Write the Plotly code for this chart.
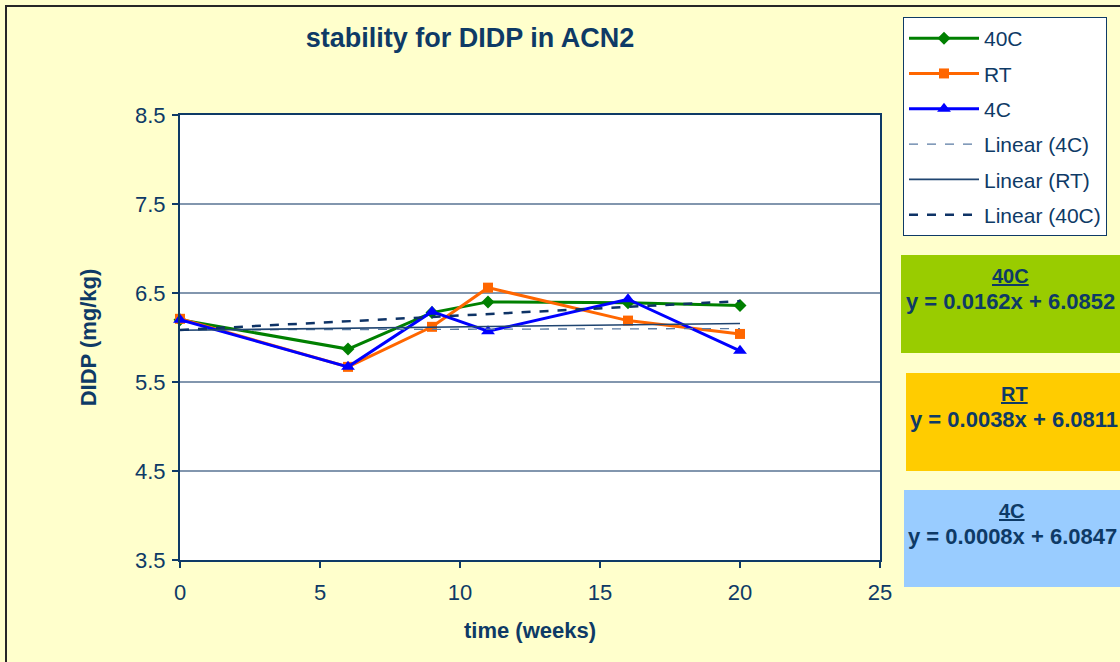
import plotly.graph_objects as go

# Sampling times (weeks)
weeks = [0, 6, 9, 11, 16, 20]

# DIDP concentration (mg/kg) at each storage condition
didp_40c = [6.20, 5.87, 6.28, 6.40, 6.39, 6.36]
didp_rt = [6.21, 5.67, 6.12, 6.56, 6.19, 6.04]
didp_4c = [6.20, 5.67, 6.29, 6.07, 6.43, 5.85]

# Linear trend coefficients (slope, intercept)
trend_names = ["40C", "RT", "4C"]
trend_slopes = [0.0162, 0.0038, 0.0008]
trend_intercepts = [6.0852, 6.0811, 6.0847]

x_ticks = [0, 5, 10, 15, 20, 25]
y_ticks = [3.5, 4.5, 5.5, 6.5, 7.5, 8.5]

NAVY = "#0E3A66"
FONT = "Liberation Sans, Arial, sans-serif"

# plot area in pixels
W, H = 1120, 662
L, R, T, B = 180, 240, 115, 102
PW, PH = W - L - R, H - T - B


def px(x):
    return (x - L) / PW


def py(y):
    return (H - B - y) / PH


fig = go.Figure()

series = [
    ("40C", didp_40c, "#008000", "diamond", 10),
    ("RT", didp_rt, "#FF6600", "square", 10),
    ("4C", didp_4c, "#0000FF", "triangle-up", 12),
]
for name, vals, color, sym, size in series:
    fig.add_trace(go.Scatter(
        x=weeks, y=vals, name=name, mode="lines+markers",
        line=dict(color=color, width=3),
        marker=dict(symbol=sym, size=size, color=color),
        cliponaxis=False, legendgroup=name,
    ))

coef = dict(zip(trend_names, zip(trend_slopes, trend_intercepts)))
trend_styles = [
    ("4C", "#5A7BA3", "dash", 1.3),
    ("RT", "#1F4470", "solid", 1.6),
    ("40C", "#0E3366", "dash", 2.5),
]
x_fit = [weeks[0], weeks[-1]]
for name, color, dash, width in trend_styles:
    m, c = coef[name]
    fig.add_trace(go.Scatter(
        x=x_fit, y=[m * xv + c for xv in x_fit], name=f"Linear ({name})",
        mode="lines", line=dict(color=color, dash=dash, width=width),
        legendgroup="Linear " + name,
    ))

shapes = []
# outer chart frame
shapes.append(dict(type="rect", xref="paper", yref="paper",
                   x0=px(6), x1=px(1400), y0=py(900), y1=py(6),
                   line=dict(color="#262626", width=2), fillcolor="rgba(0,0,0,0)",
                   layer="below"))

# equation boxes
boxes = [
    ("40C", "#99CC00", 901, 255, 353, 1010),
    ("RT", "#FFCC00", 906, 373, 471, 1014),
    ("4C", "#99CCFF", 904, 490, 587, 1012),
]
annotations = []
for name, fill, x0, y0, y1, cx in boxes:
    shapes.append(dict(type="rect", xref="paper", yref="paper",
                       x0=px(x0), x1=px(1125), y0=py(y1), y1=py(y0),
                       fillcolor=fill, line=dict(width=0)))
    m, c = coef[name]
    annotations.append(dict(
        xref="paper", yref="paper", x=px(cx), y=py(y0 + 21),
        text=f"<b><u>{name}</u></b>", showarrow=False,
        font=dict(size=20, color=NAVY, family=FONT), xanchor="center", yanchor="middle"))
    annotations.append(dict(
        xref="paper", yref="paper", x=px(cx), y=py(y0 + 46),
        text=f"<b>y = {m:.4f}x + {c:.4f}</b>", showarrow=False,
        font=dict(size=22, color=NAVY, family=FONT), xanchor="center", yanchor="middle"))

fig.update_layout(
    width=W, height=H,
    margin=dict(l=L, r=R, t=T, b=B, pad=0),
    paper_bgcolor="#FFFFCC", plot_bgcolor="#FFFFFF",
    font=dict(family=FONT, color=NAVY),
    title=dict(text="<b>stability for DIDP in ACN2</b>", x=px(470), xref="paper",
               xanchor="center", y=1 - 38 / H, yanchor="middle",
               font=dict(size=27, color=NAVY, family=FONT)),
    xaxis=dict(range=[0, 25], tickvals=x_ticks, showgrid=False, zeroline=False,
               showline=True, linecolor=NAVY, linewidth=2, mirror=True,
               ticks="outside", ticklen=6, tickcolor=NAVY, tickwidth=1.5,
               tickfont=dict(size=22, color=NAVY), ticklabelstandoff=6,
               title=dict(text="<b>time (weeks)</b>", font=dict(size=22, color=NAVY), standoff=18)),
    yaxis=dict(range=[3.5, 8.5], tickvals=y_ticks, tickformat=".1f",
               showgrid=True, gridcolor="#8296AE", gridwidth=1.5, zeroline=False,
               showline=True, linecolor=NAVY, linewidth=2, mirror=True,
               ticks="outside", ticklen=6, tickcolor=NAVY, tickwidth=1.5,
               tickfont=dict(size=22, color=NAVY), ticklabelstandoff=2,
               title=dict(text="<b>DIDP (mg/kg)</b>", font=dict(size=22, color=NAVY), standoff=32)),
    legend=dict(x=px(903), y=py(17), xanchor="left", yanchor="top",
                bgcolor="#FFFFFF", bordercolor=NAVY, borderwidth=1,
                font=dict(size=21, color=NAVY, family=FONT),
                itemwidth=70, tracegroupgap=5, traceorder="grouped"),
    shapes=shapes, annotations=annotations,
)

fig.write_html("out.html")
